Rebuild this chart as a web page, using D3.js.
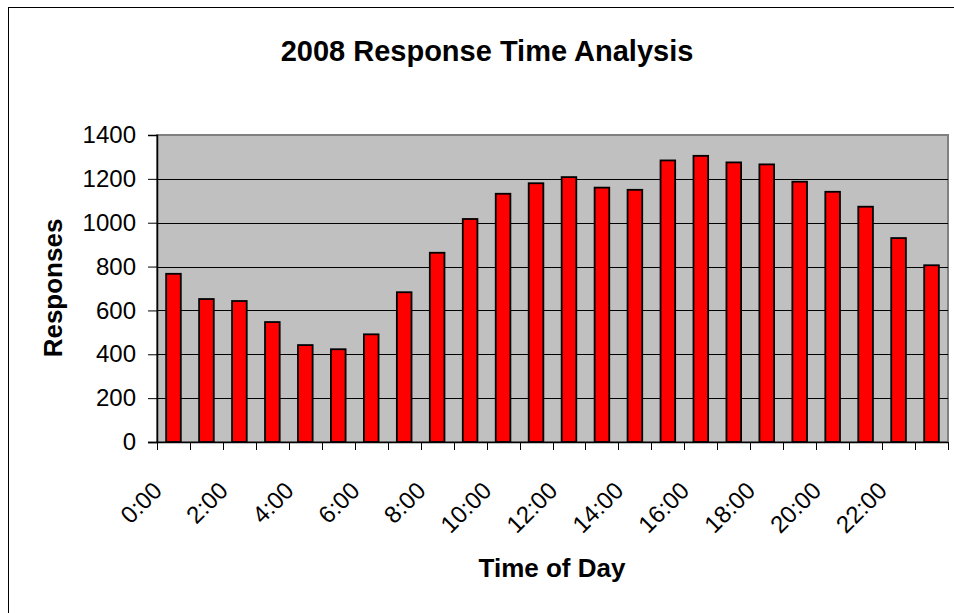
<!DOCTYPE html>
<html>
<head>
<meta charset="utf-8">
<script src="https://cdn.jsdelivr.net/npm/d3@7"></script>
<style>
  html, body { margin: 0; padding: 0; background: #fff; }
  svg { display: block; }
  text { font-family: "Liberation Sans", Arial, sans-serif; fill: #000; }
</style>
</head>
<body>
<svg id="chart" width="954" height="613"></svg>
<script>
// Hourly response counts for 2008
const hours = ["0:00","1:00","2:00","3:00","4:00","5:00","6:00","7:00","8:00","9:00","10:00","11:00",
               "12:00","13:00","14:00","15:00","16:00","17:00","18:00","19:00","20:00","21:00","22:00","23:00"];
const responses = [767, 652, 643, 547, 442, 423, 491, 683, 863, 1017, 1132, 1180,
                   1208, 1160, 1150, 1284, 1305, 1275, 1266, 1187, 1141, 1073, 930, 806];
const yTicks = [0, 200, 400, 600, 800, 1000, 1200, 1400];
const labelEvery = 2;

const svg = d3.select("#chart");
const plot = { left: 157, right: 948, top: 135, bottom: 442 };

// Chart frame
svg.append("rect")
  .attr("x", 8.5).attr("y", 7.5)
  .attr("width", 1000).attr("height", 1000)
  .attr("fill", "none").attr("stroke", "#000").attr("stroke-width", 1);

// Title
svg.append("text")
  .attr("x", 487).attr("y", 61)
  .attr("text-anchor", "middle")
  .attr("font-size", 29).attr("font-weight", "bold")
  .text("2008 Response Time Analysis");

const x = d3.scaleBand()
  .domain(hours)
  .range([plot.left, plot.right])
  .paddingInner(0)
  .paddingOuter(0);

const y = d3.scaleLinear()
  .domain([0, 1400])
  .range([plot.bottom, plot.top]);

// Plot background
svg.append("rect")
  .attr("x", plot.left).attr("y", plot.top)
  .attr("width", plot.right - plot.left)
  .attr("height", plot.bottom - plot.top)
  .attr("fill", "#C0C0C0")
  .attr("stroke", "#808080").attr("stroke-width", 2);

// Horizontal gridlines
svg.append("g")
  .selectAll("line")
  .data(yTicks.filter(d => d > 0 && d < 1400))
  .join("line")
  .attr("x1", plot.left).attr("x2", plot.right)
  .attr("y1", d => Math.round(y(d)) + 0.5).attr("y2", d => Math.round(y(d)) + 0.5)
  .attr("stroke", "#000").attr("stroke-width", 1);

// Bars (gap width 125%)
const barW = x.bandwidth() / 2.25;
svg.append("g")
  .selectAll("rect")
  .data(hours.map((h, i) => ({ h, v: responses[i] })))
  .join("rect")
  .attr("x", d => x(d.h) + (x.bandwidth() - barW) / 2)
  .attr("y", d => y(d.v))
  .attr("width", barW)
  .attr("height", d => y(0) - y(d.v))
  .attr("fill", "#FF0000")
  .attr("stroke", "#000").attr("stroke-width", 1.8);

// Y axis
const yAxis = d3.axisLeft(y)
  .tickValues(yTicks)
  .tickSize(9)
  .tickPadding(12)
  .tickFormat(d3.format("d"));
const gy = svg.append("g")
  .attr("transform", `translate(${plot.left},0)`)
  .call(yAxis);
gy.select(".domain").attr("stroke", "#000").attr("stroke-width", 1.5);
gy.selectAll(".tick line").attr("stroke", "#000");
gy.selectAll(".tick text")
  .attr("font-size", 24)
  .attr("font-family", "Liberation Sans, Arial, sans-serif")
  .attr("fill", "#000");

// X axis: ticks at category boundaries
const boundaries = d3.range(hours.length + 1).map(i => plot.left + i * x.bandwidth());
svg.append("g")
  .selectAll("line")
  .data(boundaries)
  .join("line")
  .attr("x1", d => Math.round(d) + 0.5).attr("x2", d => Math.round(d) + 0.5)
  .attr("y1", plot.bottom).attr("y2", plot.bottom + 8)
  .attr("stroke", "#000").attr("stroke-width", 1);
svg.append("line")
  .attr("x1", plot.left - 9).attr("x2", plot.right)
  .attr("y1", plot.bottom + 0.5).attr("y2", plot.bottom + 0.5)
  .attr("stroke", "#000").attr("stroke-width", 1.5);

// X labels, every second hour, rotated
svg.append("g")
  .selectAll("text")
  .data(hours.filter((h, i) => i % labelEvery === 0))
  .join("text")
  .attr("transform", d => `translate(${x(d) + x.bandwidth() / 2 - 10},${plot.bottom + 50}) rotate(-45)`)
  .attr("text-anchor", "end")
  .attr("font-size", 24)
  .text(d => d);

// Axis titles
svg.append("text")
  .attr("x", 552).attr("y", 577)
  .attr("text-anchor", "middle")
  .attr("font-size", 26).attr("font-weight", "bold")
  .text("Time of Day");

svg.append("text")
  .attr("transform", "translate(62,288) rotate(-90)")
  .attr("text-anchor", "middle")
  .attr("font-size", 26).attr("font-weight", "bold")
  .text("Responses");
</script>
</body>
</html>
